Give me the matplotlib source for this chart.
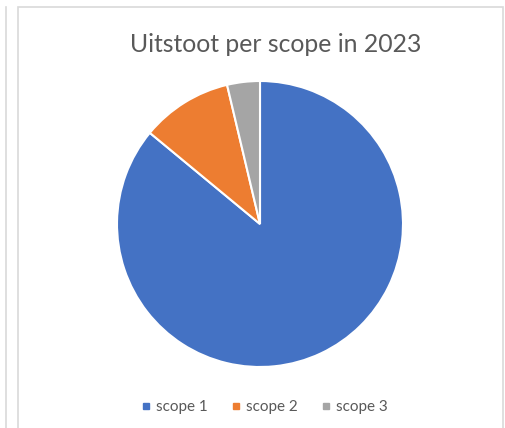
import matplotlib.pyplot as plt
from matplotlib.lines import Line2D
from matplotlib.patches import Rectangle

labels = ['scope 1', 'scope 2', 'scope 3']
values = [86.0, 10.3, 3.7]
colors = ['#4472C4', '#ED7D31', '#A5A5A5']

W, H = 506, 428
fig = plt.figure(figsize=(W / 100, H / 100), dpi=100)
plt.rcParams['font.family'] = ['Lato', 'DejaVu Sans']

# chart frame borders (Excel-style)
fig.add_artist(Rectangle((18 / W, -0.05), (503 - 18) / W, (H - 7) / H + 0.05,
                         transform=fig.transFigure, fill=False,
                         edgecolor='#D9D9D9', lw=1.2))
fig.add_artist(Line2D([6 / W, 6 / W], [0, (H - 7) / H], transform=fig.transFigure,
                      color='#D9D9D9', lw=1.2))

cx, cy, r = 260, 224, 143
ax = fig.add_axes([(cx - r) / W, (H - cy - r) / H, 2 * r / W, 2 * r / H])
wedges, _ = ax.pie(values, colors=colors, startangle=90, counterclock=False,
                   radius=1, wedgeprops=dict(edgecolor='white', linewidth=1.5))
ax.set_xlim(-1, 1)
ax.set_ylim(-1, 1)
ax.set_aspect('equal')
ax.axis('off')

fig.text(275.5 / W, 1 - 45 / H, 'Uitstoot per scope in 2023', ha='center', va='center',
         fontsize=17.8, color='#595959')

handles = [Line2D([], [], marker='s', linestyle='none', markersize=5,
                  markerfacecolor=c, markeredgecolor=c) for c in colors]
fig.legend(handles, labels, loc='center', bbox_to_anchor=(263 / W, 21 / H),
           ncol=3, frameon=False, fontsize=11, labelcolor='#595959',
           handletextpad=0.2, columnspacing=1.3, handlelength=1.0)

fig.savefig('out.png', dpi=100)
